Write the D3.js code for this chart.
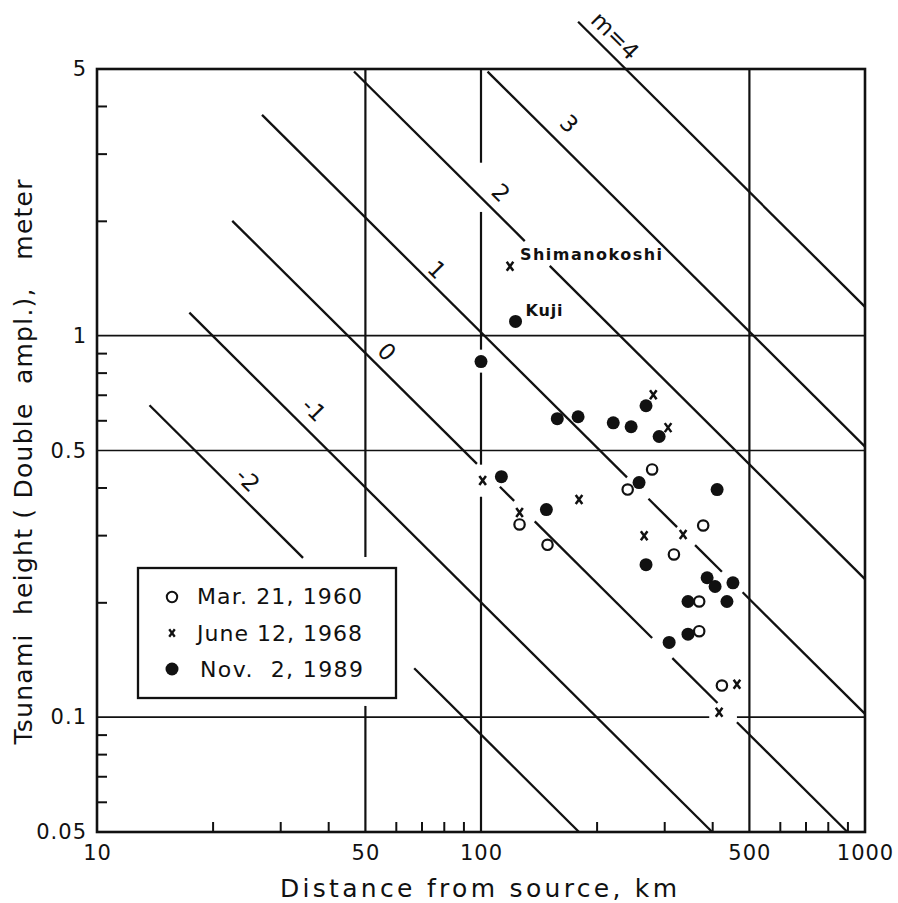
<!DOCTYPE html>
<html>
<head>
<meta charset="utf-8" />
<script src="https://d3js.org/d3.v7.min.js"></script>
<style>
  body { margin: 0; background: #fff; }
  svg text { font-family: "DejaVu Sans", sans-serif; fill: #111; }
</style>
</head>
<body>
<svg width="898" height="903"></svg>
<script>
// tsunami magnitude lines: H * distance = const along each line
var mLevels = [-2, -1, 0, 1, 2, 3, 4];
var mConst = [9, 20, 45, 102, 230, 512, 1190];
// pieces of each line (distance ranges, km) - the drawing breaks them near points
var mSegments = [
  [[13.7, 34.4], [67, 180]],
  [[17.4, 400]],
  [[22.5, 97.6], [112, 122], [138, 279], [315, 413], [464, 900]],
  [[26.9, 240], [273, 324], [361, 424], [480, 1000]],
  [[46.7, 130], [151, 1000]],
  [[104, 1000]],
  [[179, 1000]]
];
var mLabelText = ["-2", "-1", "0", "1", "2", "3", "m=4"];
var mLabelDist = [24.7, 36.7, 56.9, 76.8, 112.7, 169.6, 223.6];
var mLabelHeight = [0.419, 0.64, 0.908, 1.489, 2.371, 3.595, 6.115];

// grid lines and the parts of them that are drawn
var gridX = [50, 100, 500];
var gridXSpans = [
  [[0.05, 0.107], [0.263, 5]],
  [[0.05, 0.378], [0.459, 0.8], [0.919, 2.11], [2.84, 5]],
  [[0.05, 5]]
];
var gridY = [0.1, 0.5, 1];
var gridYSpans = [
  [[10, 393], [464, 1000]],
  [[10, 1000]],
  [[10, 1000]]
];

var xLabels = [10, 50, 100, 500, 1000];
var xMinor = [20, 30, 40, 60, 70, 80, 90, 200, 300, 400, 600, 700, 800, 900];
var yLabels = [0.05, 0.1, 0.5, 1, 5];
var yMinor = [0.06, 0.07, 0.08, 0.09, 0.2, 0.3, 0.4, 0.6, 0.7, 0.8, 0.9, 2, 3, 4];

// observations
var open1960Dist = [126, 149, 241, 279, 318, 379, 370, 370, 424];
var open1960Height = [0.32, 0.283, 0.395, 0.446, 0.267, 0.318, 0.201, 0.168, 0.121];

var cross1968Dist = [119, 101, 126, 180, 281, 307, 266, 336, 464, 417];
var cross1968Height = [1.52, 0.417, 0.344, 0.372, 0.7, 0.574, 0.299, 0.301, 0.122, 0.103];

var dot1989Dist = [123, 100, 158, 179, 221, 246, 269, 291, 113, 148, 258, 412, 269, 388, 407, 453, 346, 437, 346, 309];
var dot1989Height = [1.09, 0.855, 0.606, 0.613, 0.591, 0.577, 0.655, 0.544, 0.427, 0.35, 0.412, 0.395, 0.251, 0.232, 0.22, 0.225, 0.201, 0.201, 0.165, 0.157];

var legendText = ["Mar. 21, 1960", "June 12, 1968", "Nov.  2, 1989"];

var svg = d3.select("svg");
var x = d3.scaleLog().domain([10, 1000]).range([97, 865]);
var y = d3.scaleLog().domain([0.05, 5]).range([832, 69]);

// grid
var grid = svg.append("g").attr("stroke", "#111");
gridX.forEach(function (v, i) {
  gridXSpans[i].forEach(function (s) {
    grid.append("line")
      .attr("x1", x(v)).attr("x2", x(v))
      .attr("y1", y(s[0])).attr("y2", y(s[1]))
      .attr("stroke-width", 2.2);
  });
});
gridY.forEach(function (v, i) {
  gridYSpans[i].forEach(function (s) {
    grid.append("line")
      .attr("x1", x(s[0])).attr("x2", x(s[1]))
      .attr("y1", y(v)).attr("y2", y(v))
      .attr("stroke-width", 1.7);
  });
});

// magnitude lines
var mg = svg.append("g").attr("stroke", "#111").attr("stroke-width", 2.3);
mLevels.forEach(function (m, i) {
  var c = mConst[i];
  mSegments[i].forEach(function (s) {
    mg.append("line")
      .attr("x1", x(s[0])).attr("y1", y(c / s[0]))
      .attr("x2", x(s[1])).attr("y2", y(c / s[1]));
  });
  svg.append("text")
    .attr("transform", "translate(" + x(mLabelDist[i]) + "," + y(mLabelHeight[i]) + ") rotate(45)")
    .attr("text-anchor", "middle")
    .attr("dy", "0.35em")
    .style("font-size", "23px")
    .text(mLabelText[i]);
});

// frame
svg.append("rect")
  .attr("x", x(10)).attr("y", y(5))
  .attr("width", x(1000) - x(10)).attr("height", y(0.05) - y(5))
  .attr("fill", "none").attr("stroke", "#111").attr("stroke-width", 2.6);

// minor ticks (inside)
var xTicks = svg.append("g").attr("transform", "translate(0," + y(0.05) + ")")
  .call(d3.axisBottom(x).tickValues(xMinor).tickSize(-10).tickFormat(""));
var yTicks = svg.append("g").attr("transform", "translate(" + x(10) + ",0)")
  .call(d3.axisLeft(y).tickValues(yMinor).tickSize(-10).tickFormat(""));
[xTicks, yTicks].forEach(function (g) {
  g.select(".domain").remove();
  g.selectAll("line").attr("stroke", "#111").attr("stroke-width", 2);
});

// labels
var xAx = svg.append("g").attr("transform", "translate(0," + y(0.05) + ")")
  .call(d3.axisBottom(x).tickValues(xLabels).tickSize(0).tickPadding(13).tickFormat(function (d) { return d; }));
var yAx = svg.append("g").attr("transform", "translate(" + x(10) + ",0)")
  .call(d3.axisLeft(y).tickValues(yLabels).tickSize(0).tickPadding(10).tickFormat(function (d) { return d; }));
[xAx, yAx].forEach(function (g) {
  g.select(".domain").remove();
  g.selectAll("text").attr("fill", "#111")
    .style("font-family", "DejaVu Sans, sans-serif")
    .style("font-size", "21px").style("letter-spacing", "1px");
});

svg.append("text")
  .attr("x", 280).attr("y", 897)
  .attr("textLength", 397).attr("lengthAdjust", "spacing")
  .style("font-size", "25px")
  .text("Distance from source, km");

svg.append("text")
  .attr("transform", "translate(32,462) rotate(-90)")
  .attr("text-anchor", "middle")
  .attr("textLength", 565).attr("lengthAdjust", "spacing")
  .style("font-size", "25px").style("white-space", "pre")
  .text("Tsunami  height ( Double  ampl.),   meter");

// points
function crossPath(w, h) {
  return "M" + (-w) + "," + (-h) + "L" + w + "," + h +
    "M" + w + "," + (-h) + "L" + (-w) + "," + h;
}

var pts = svg.append("g");
pts.selectAll("circle.dot").data(dot1989Dist).enter().append("circle")
  .attr("class", "dot")
  .attr("cx", function (d) { return x(d); })
  .attr("cy", function (d, i) { return y(dot1989Height[i]); })
  .attr("r", 6.5).attr("fill", "#111");
pts.selectAll("circle.open").data(open1960Dist).enter().append("circle")
  .attr("class", "open")
  .attr("cx", function (d) { return x(d); })
  .attr("cy", function (d, i) { return y(open1960Height[i]); })
  .attr("r", 5.2).attr("fill", "#fff").attr("stroke", "#111").attr("stroke-width", 2.2);
pts.selectAll("path.cross").data(cross1968Dist).enter().append("path")
  .attr("class", "cross")
  .attr("transform", function (d, i) { return "translate(" + x(d) + "," + y(cross1968Height[i]) + ")"; })
  .attr("d", crossPath(3.3, 4.5))
  .attr("fill", "none").attr("stroke", "#111").attr("stroke-width", 2.5);

// place names
svg.append("text")
  .attr("x", x(cross1968Dist[0]) + 10).attr("y", y(cross1968Height[0]) - 6)
  .attr("textLength", 142).attr("lengthAdjust", "spacing")
  .style("font-size", "16px").style("font-weight", "bold")
  .text("Shimanokoshi");
svg.append("text")
  .attr("x", x(dot1989Dist[0]) + 10).attr("y", y(dot1989Height[0]) - 5)
  .attr("textLength", 37).attr("lengthAdjust", "spacing")
  .style("font-size", "16px").style("font-weight", "bold")
  .text("Kuji");

// legend
var lg = svg.append("g").attr("transform", "translate(138,568)");
lg.append("rect").attr("width", 258).attr("height", 130)
  .attr("fill", "#fff").attr("stroke", "#111").attr("stroke-width", 2.3);
lg.append("circle").attr("cx", 34).attr("cy", 29).attr("r", 5.2)
  .attr("fill", "#fff").attr("stroke", "#111").attr("stroke-width", 2);
lg.append("path").attr("transform", "translate(34,65)").attr("d", crossPath(2.8, 3.8))
  .attr("fill", "none").attr("stroke", "#111").attr("stroke-width", 2.3);
lg.append("circle").attr("cx", 34).attr("cy", 101).attr("r", 6.5).attr("fill", "#111");
legendText.forEach(function (t, i) {
  lg.append("text")
    .attr("x", i === 2 ? 62 : 59).attr("y", 36 + i * 36.5)
    .attr("textLength", i === 2 ? 163 : 165).attr("lengthAdjust", "spacing")
    .style("font-size", "22px").style("white-space", "pre")
    .text(t);
});
</script>
</body>
</html>
